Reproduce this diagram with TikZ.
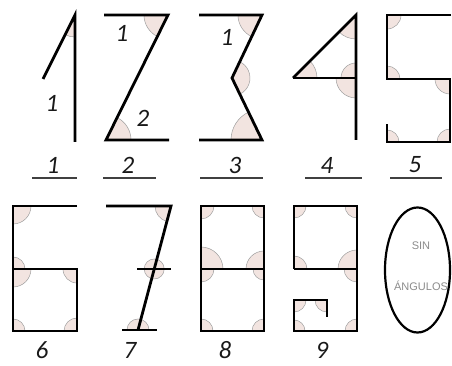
\documentclass[tikz,border=0pt]{standalone}
\usepackage{fontspec}
\setmainfont{Carlito}
\newfontfamily\tagfont{Liberation Sans}
\usetikzlibrary{angles, calc}
\definecolor{angfill}{RGB}{242,228,224}

\begin{document}
\begin{tikzpicture}[
  x=1pt, y=1pt,
  stroke/.style={draw, line width=2.8pt, line join=miter},
  ang/.style={draw=gray!75, line width=0.5pt, fill=angfill},
  num/.style={font=\fontsize{25}{28}\selectfont\itshape, text=black!90, inner sep=0pt},
  uline/.style={draw=black!75, line width=1.4pt},
  tag/.style={font=\tagfont\fontsize{11}{13}\selectfont, text=gray!90, inner sep=0pt}
]
  \useasboundingbox[fill=white] (0,0) rectangle (452,366);

  % Corner points, top row
  \coordinate (T1) at (75,351);  \coordinate (B1) at (75,224);  \coordinate (D1) at (43,287);
  \coordinate (TL2) at (104,351); \coordinate (TR2) at (168,351);
  \coordinate (BL2) at (106,226); \coordinate (BR2) at (169,226);
  \coordinate (TL3) at (199,351); \coordinate (TR3) at (262,351); \coordinate (M3) at (232,288);
  \coordinate (BL3) at (199,226); \coordinate (BR3) at (262,226);
  \coordinate (T4) at (356,351); \coordinate (M4) at (356,288);
  \coordinate (B4) at (356,226); \coordinate (L4) at (293,288);
  \coordinate (TL5) at (387,351); \coordinate (TR5) at (451,351);
  \coordinate (ML5) at (387,287); \coordinate (MR5) at (450,287);
  \coordinate (BL5) at (387,224); \coordinate (BR5) at (450,224); \coordinate (S5) at (387,242);

  % Corner points, bottom row
  \coordinate (TL6) at (13,160); \coordinate (TR6) at (77,160);
  \coordinate (ML6) at (13,97);  \coordinate (MR6) at (77,97);
  \coordinate (BL6) at (13,35);  \coordinate (BR6) at (77,35);
  \coordinate (TL7) at (106,160); \coordinate (TR7) at (171,160); \coordinate (D7) at (138,36);
  \coordinate (XL7) at (137,97); \coordinate (XR7) at (171,97);
  \coordinate (BL7) at (122,36); \coordinate (BR7) at (157,36);
  \coordinate (C7) at ($(TR7)!0.508!(D7)$);
  \coordinate (TL8) at (201,160); \coordinate (TR8) at (264,160);
  \coordinate (ML8) at (201,97);  \coordinate (MR8) at (264,97);
  \coordinate (BL8) at (201,35);  \coordinate (BR8) at (264,35);
  \coordinate (TL9) at (294,160); \coordinate (TR9) at (357,160);
  \coordinate (ML9) at (294,97);  \coordinate (MR9) at (357,97);
  \coordinate (BL9) at (294,35);  \coordinate (BR9) at (357,35);
  \coordinate (S1) at (294,66); \coordinate (S2) at (327,66); \coordinate (S3) at (327,49);

  % Angles
  \pic[ang, angle radius=22] {angle=D1--T1--B1};
  \pic[ang, angle radius=24] {angle=TL2--TR2--BL2};
  \pic[ang, angle radius=25] {angle=BR2--BL2--TR2};
  \pic[ang, angle radius=24] {angle=TL3--TR3--M3};
  \pic[ang, angle radius=18] {angle=BR3--M3--TR3};
  \pic[ang, angle radius=31] {angle=M3--BR3--BL3};
  \pic[ang, angle radius=24] {angle=L4--T4--M4};
  \pic[ang, angle radius=24] {angle=M4--L4--T4};
  \pic[ang, angle radius=15] {angle=T4--M4--L4};
  \pic[ang, angle radius=20] {angle=L4--M4--B4};
  \pic[ang, angle radius=14] {angle=ML5--TL5--TR5};
  \pic[ang, angle radius=13] {angle=MR5--ML5--TL5};
  \pic[ang, angle radius=15] {angle=ML5--MR5--BR5};
  \pic[ang, angle radius=13] {angle=MR5--BR5--BL5};
  \pic[ang, angle radius=12] {angle=BR5--BL5--S5};

  \pic[ang, angle radius=18] {angle=ML6--TL6--TR6};
  \pic[ang, angle radius=12] {angle=MR6--ML6--TL6};
  \pic[ang, angle radius=18] {angle=BL6--ML6--MR6};
  \pic[ang, angle radius=14] {angle=ML6--MR6--BR6};
  \pic[ang, angle radius=12] {angle=BR6--BL6--ML6};
  \pic[ang, angle radius=13] {angle=MR6--BR6--BL6};
  \pic[ang, angle radius=16] {angle=TL7--TR7--D7};
  \draw[ang] (C7) circle[radius=10];
  \pic[ang, angle radius=11] {angle=BR7--D7--BL7};
  \pic[ang, angle radius=13] {angle=ML8--TL8--TR8};
  \pic[ang, angle radius=12] {angle=TL8--TR8--MR8};
  \pic[ang, angle radius=22] {angle=MR8--ML8--TL8};
  \pic[ang, angle radius=13] {angle=BL8--ML8--MR8};
  \pic[ang, angle radius=18] {angle=TR8--MR8--ML8};
  \pic[ang, angle radius=11] {angle=ML8--MR8--BR8};
  \pic[ang, angle radius=12] {angle=BR8--BL8--ML8};
  \pic[ang, angle radius=12] {angle=MR8--BR8--BL8};
  \pic[ang, angle radius=12] {angle=ML9--TL9--TR9};
  \pic[ang, angle radius=12] {angle=TL9--TR9--MR9};
  \pic[ang, angle radius=13] {angle=MR9--ML9--TL9};
  \pic[ang, angle radius=19] {angle=TR9--MR9--ML9};
  \pic[ang, angle radius=13] {angle=ML9--MR9--BR9};
  \pic[ang, angle radius=12] {angle=BL9--S1--S2};
  \pic[ang, angle radius=12] {angle=S1--S2--S3};
  \pic[ang, angle radius=11] {angle=BR9--BL9--S1};
  \pic[ang, angle radius=12] {angle=MR9--BR9--BL9};

  % Digits
  \draw[stroke] (D1) -- (T1) -- (B1);
  \draw[stroke] (TL2) -- (TR2) -- (BL2) -- (BR2);
  \draw[stroke] (TL3) -- (TR3) -- (M3) -- (BR3) -- (BL3);
  \draw[stroke] (L4) -- (T4) -- (B4);
  \draw[stroke] (L4) -- (M4);
  \draw[stroke] (TR5) -- (TL5) -- (ML5) -- (MR5) -- (BR5) -- (BL5) -- (S5);
  \draw[stroke] (TR6) -- (TL6) -- (BL6) -- (BR6) -- (MR6) -- (ML6);
  \draw[stroke] (TL7) -- (TR7) -- (D7);
  \draw[stroke] (XL7) -- (XR7);
  \draw[stroke] (BL7) -- (BR7);
  \draw[stroke] (TL8) rectangle (BR8);
  \draw[stroke] (ML8) -- (MR8);
  \draw[stroke] (ML9) -- (TL9) -- (TR9) -- (BR9) -- (BL9) -- (S1) -- (S2) -- (S3);
  \draw[stroke] (ML9) -- (MR9);
  \draw[line width=2.2pt] (417.5,96) ellipse[x radius=32.5, y radius=62.5];

  % Labels
  \node[num] (in1) at (52,263) {1};
  \node[num] (in2a) at (122,333) {1};
  \node[num] (in2b) at (143,248) {2};
  \node[num] (in3) at (227,329) {1};
  \foreach \t/\x in {1/53, 2/128, 3/235, 4/327, 5/415}
    \node[num] (top\t) at (\x,201) {\t};
  \foreach \t/\x in {6/42, 7/130, 8/225, 9/322}
    \node[num] (bot\t) at (\x,16) {\t};
  \node[tag] (sin) at (421,120) {SIN};
  \node[tag] (ang) at (421,80) {ÁNGULOS};

  % Underlines
  \foreach \a/\b [count=\i] in {32/77, 103/156, 200/263, 305/362, 390/442} {
    \coordinate (ul\i) at (\a,188);
    \coordinate (ur\i) at (\b,188);
    \draw[uline] (ul\i) -- (ur\i);
  }
\end{tikzpicture}
\end{document}
